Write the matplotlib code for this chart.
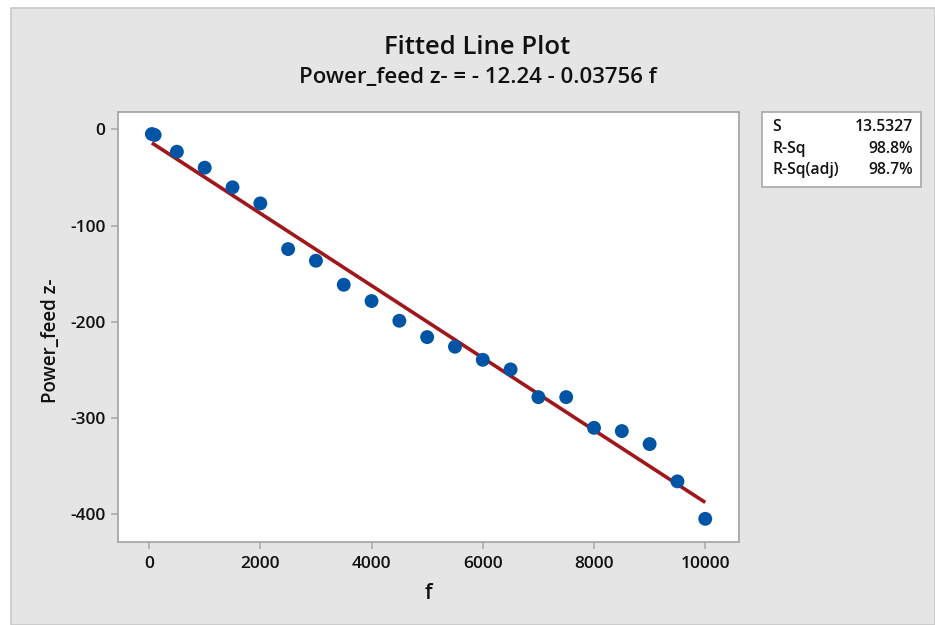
import matplotlib
matplotlib.use("Agg")
import matplotlib.pyplot as plt
from matplotlib.patches import Rectangle
import numpy as np

# Observations
f_vals = [50, 100, 500, 1000, 1500, 2000, 2500, 3000, 3500, 4000, 4500,
          5000, 5500, 6000, 6500, 7000, 7500, 8000, 8500, 9000, 9500, 10000]
power_feed_z = [-4.9, -5.9, -23.3, -39.9, -60.3, -77.0, -124.5, -136.6, -161.6,
                -178.5, -199.0, -216.0, -226.0, -239.6, -249.6, -278.4, -278.4,
                -310.3, -313.7, -327.2, -366.0, -404.9]

# Regression summary
intercept = -12.24
slope = -0.03756
stat_names = ["S", "R-Sq", "R-Sq(adj)"]
stat_values = ["13.5327", "98.8%", "98.7%"]

x_ticks = [0, 2000, 4000, 6000, 8000, 10000]
y_ticks = [0, -100, -200, -300, -400]

FONT = ["Open Sans", "DejaVu Sans"]
plt.rcParams["font.family"] = FONT

W, H = 935, 625
fig = plt.figure(figsize=(W / 100, H / 100), dpi=100, facecolor="white")

# gray panel behind everything
fig.patches.append(Rectangle((11 / W, 0), 1 - 11 / W, (H - 8) / H,
                             transform=fig.transFigure, facecolor="#E5E5E5",
                             edgecolor="#C8C8C8", linewidth=1.2, zorder=-10))

ax = fig.add_axes([118 / W, (H - 542) / H, (738.5 - 118) / W, (542 - 112) / H])
ax.set_facecolor("white")

xf = np.array([min(f_vals), max(f_vals)])
ax.plot(xf, intercept + slope * xf, color="#A0171B", linewidth=2.6,
        solid_capstyle="butt", zorder=2)
ax.scatter(f_vals, power_feed_z, s=100, color="#0054A6", edgecolors="none",
           zorder=3)

ax.set_xlim(-559, 10598)
ax.set_ylim(-429, 18)
ax.set_xticks(x_ticks)
ax.set_yticks(y_ticks)
ax.set_xticklabels([str(v) for v in x_ticks])
ax.set_yticklabels([str(v) for v in y_ticks])

for s in ax.spines.values():
    s.set_color("#A8A8A8")
    s.set_linewidth(1.3)
ax.tick_params(axis="both", direction="out", length=5, width=1.1,
               color="#A8A8A8", labelsize=12.5)
ax.tick_params(axis="y", pad=4)
ax.tick_params(axis="x", pad=5)
for lab in ax.get_xticklabels() + ax.get_yticklabels():
    lab.set_fontweight("semibold")
    lab.set_color("#111111")

ax.set_xlabel("f", fontsize=15, fontweight="semibold", labelpad=8,
              color="#111111")
ax.set_ylabel("Power_feed z-", fontsize=13.5, fontweight="semibold",
              color="#111111")
ax.yaxis.set_label_coords(61 / W, 1 - 341 / H, transform=fig.transFigure)

fig.text(477 / W, 1 - 47 / H, "Fitted Line Plot", ha="center", va="center",
         fontsize=18.5, fontweight="semibold", color="#111111")
fig.text(478 / W, 1 - 78 / H, "Power_feed z- = - 12.24 - 0.03756 f",
         ha="center", va="center", fontsize=16, fontweight="semibold",
         color="#111111")

# statistics box
bx0, by0, bx1, by1 = 762, 112, 921, 187
fig.patches.append(Rectangle((bx0 / W, 1 - by1 / H), (bx1 - bx0) / W,
                             (by1 - by0) / H, transform=fig.transFigure,
                             facecolor="white", edgecolor="#A8A8A8",
                             linewidth=1.2, zorder=5))
row_y = [127, 149, 170]
for name, val, yy in zip(stat_names, stat_values, row_y):
    fig.text(772 / W, 1 - yy / H, name, ha="left", va="center", fontsize=11.3,
             fontweight="semibold", color="#111111", zorder=6)
    fig.text(913 / W, 1 - yy / H, val, ha="right", va="center", fontsize=11.3,
             fontweight="semibold", color="#111111", zorder=6)

fig.savefig("out.png", dpi=100, facecolor=fig.get_facecolor())
